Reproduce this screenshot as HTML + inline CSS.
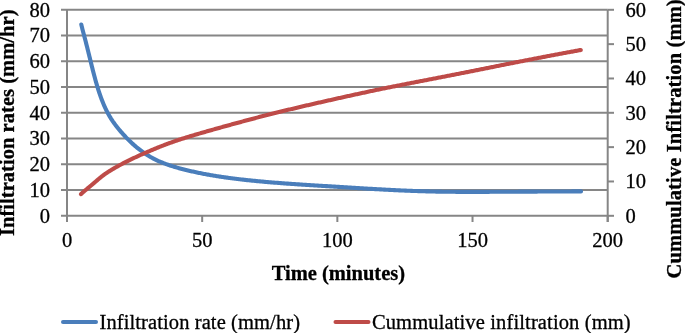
<!DOCTYPE html>
<html><head><meta charset="utf-8"><style>
html,body{margin:0;padding:0;background:#fff;width:685px;height:333px;overflow:hidden;}
svg{display:block;will-change:transform;filter:blur(0.35px);}
</style></head><body>
<svg width="685" height="333" viewBox="0 0 685 333">
<rect width="685" height="333" fill="#fff"/>
<g stroke="#868686" stroke-width="2" fill="none"><line x1="61" y1="215.80" x2="607.70" y2="215.80" /><line x1="61" y1="190.05" x2="607.70" y2="190.05" /><line x1="61" y1="164.30" x2="607.70" y2="164.30" /><line x1="61" y1="138.55" x2="607.70" y2="138.55" /><line x1="61" y1="112.80" x2="607.70" y2="112.80" /><line x1="61" y1="87.05" x2="607.70" y2="87.05" /><line x1="61" y1="61.30" x2="607.70" y2="61.30" /><line x1="61" y1="35.55" x2="607.70" y2="35.55" /><line x1="61" y1="9.80" x2="607.70" y2="9.80" /><line x1="607.70" y1="215.80" x2="614" y2="215.80" /><line x1="607.70" y1="181.47" x2="614" y2="181.47" /><line x1="607.70" y1="147.13" x2="614" y2="147.13" /><line x1="607.70" y1="112.80" x2="614" y2="112.80" /><line x1="607.70" y1="78.47" x2="614" y2="78.47" /><line x1="607.70" y1="44.13" x2="614" y2="44.13" /><line x1="607.70" y1="9.80" x2="614" y2="9.80" /><line x1="67.00" y1="9.80" x2="67.00" y2="215.80" /><line x1="607.70" y1="9.80" x2="607.70" y2="222.00" /><line x1="67.00" y1="215.80" x2="67.00" y2="222" /><line x1="202.18" y1="215.80" x2="202.18" y2="222" /><line x1="337.35" y1="215.80" x2="337.35" y2="222" /><line x1="472.53" y1="215.80" x2="472.53" y2="222" /><line x1="607.70" y1="215.80" x2="607.70" y2="222" /></g>
<path d="M81.30,24.49 L81.50,25.39 L81.70,26.25 L81.90,27.07 L82.10,27.87 L82.30,28.66 L82.50,29.43 L82.70,30.19 L82.90,30.94 L83.10,31.69 L83.30,32.44 L83.50,33.19 L83.70,33.94 L83.90,34.69 L84.10,35.44 L84.30,36.20 L84.50,36.95 L84.70,37.71 L84.90,38.48 L85.10,39.24 L85.30,40.01 L85.50,40.79 L85.70,41.56 L85.90,42.34 L86.10,43.12 L86.30,43.91 L86.50,44.69 L86.70,45.48 L86.90,46.28 L87.10,47.07 L87.30,47.87 L87.50,48.66 L87.70,49.47 L87.90,50.27 L88.10,51.07 L88.30,51.88 L88.50,52.68 L88.70,53.49 L88.90,54.30 L89.10,55.11 L89.30,55.92 L89.50,56.73 L89.70,57.54 L89.90,58.36 L90.10,59.17 L90.30,59.99 L90.50,60.80 L90.70,61.61 L90.90,62.43 L91.10,63.24 L91.30,64.05 L91.50,64.86 L91.70,65.67 L91.90,66.48 L92.10,67.28 L92.30,68.07 L92.50,68.87 L92.70,69.66 L92.90,70.45 L93.10,71.23 L93.30,72.01 L93.50,72.78 L93.70,73.55 L93.90,74.31 L94.10,75.07 L94.30,75.83 L94.50,76.57 L94.70,77.32 L94.90,78.05 L95.10,78.79 L95.30,79.51 L95.50,80.23 L95.70,80.95 L95.90,81.66 L96.10,82.36 L96.30,83.06 L96.50,83.75 L96.70,84.43 L96.90,85.11 L97.10,85.78 L97.30,86.45 L97.50,87.11 L97.70,87.76 L97.90,88.41 L98.10,89.04 L98.30,89.68 L98.50,90.30 L98.70,90.92 L98.90,91.54 L99.10,92.14 L99.30,92.74 L99.50,93.34 L99.70,93.93 L99.90,94.51 L100.10,95.09 L100.30,95.66 L100.50,96.22 L100.70,96.78 L100.90,97.33 L101.10,97.88 L101.30,98.42 L101.50,98.95 L101.70,99.48 L101.90,100.00 L102.10,100.52 L102.30,101.03 L102.50,101.54 L102.70,102.04 L102.90,102.53 L103.10,103.02 L103.30,103.51 L103.50,103.99 L103.70,104.46 L103.90,104.93 L104.10,105.39 L104.30,105.85 L104.50,106.31 L104.70,106.75 L104.90,107.20 L105.10,107.64 L105.30,108.07 L105.50,108.50 L105.70,108.92 L105.90,109.34 L106.10,109.75 L106.30,110.16 L106.50,110.57 L106.70,110.97 L106.90,111.37 L107.10,111.76 L107.30,112.14 L107.50,112.53 L107.70,112.90 L107.90,113.28 L108.10,113.65 L108.30,114.01 L108.50,114.37 L108.70,114.73 L108.90,115.09 L109.10,115.44 L109.30,115.78 L109.50,116.12 L109.70,116.46 L109.90,116.80 L110.00,116.96 L111.00,118.58 L112.00,120.12 L113.00,121.60 L114.00,123.01 L115.00,124.37 L116.00,125.68 L117.00,126.96 L118.00,128.21 L119.00,129.43 L120.00,130.63 L121.00,131.79 L122.00,132.94 L123.00,134.06 L124.00,135.16 L125.00,136.24 L126.00,137.29 L127.00,138.33 L128.00,139.34 L129.00,140.34 L130.00,141.31 L131.00,142.27 L132.00,143.20 L133.00,144.12 L134.00,145.01 L135.00,145.89 L136.00,146.74 L137.00,147.58 L138.00,148.39 L139.00,149.19 L140.00,149.96 L141.00,150.72 L142.00,151.45 L143.00,152.17 L144.00,152.87 L145.00,153.55 L146.00,154.21 L147.00,154.85 L148.00,155.48 L149.00,156.09 L150.00,156.68 L151.00,157.25 L152.00,157.81 L153.00,158.35 L154.00,158.87 L155.00,159.38 L156.00,159.87 L157.00,160.35 L158.00,160.81 L159.00,161.26 L160.00,161.69 L161.00,162.11 L162.00,162.52 L163.00,162.92 L164.00,163.31 L165.00,163.69 L166.00,164.06 L167.00,164.42 L168.00,164.77 L169.00,165.11 L170.00,165.45 L171.00,165.77 L172.00,166.09 L173.00,166.41 L174.00,166.71 L175.00,167.01 L176.00,167.31 L177.00,167.60 L178.00,167.88 L179.00,168.16 L180.00,168.44 L181.00,168.70 L182.00,168.97 L183.00,169.23 L184.00,169.49 L185.00,169.74 L186.00,169.99 L187.00,170.23 L188.00,170.47 L189.00,170.71 L190.00,170.94 L191.00,171.17 L192.00,171.40 L193.00,171.62 L194.00,171.84 L195.00,172.06 L196.00,172.28 L197.00,172.49 L198.00,172.69 L199.00,172.90 L200.00,173.10 L201.00,173.30 L202.00,173.50 L203.00,173.69 L204.00,173.89 L205.00,174.07 L206.00,174.26 L207.00,174.44 L208.00,174.63 L209.00,174.81 L210.00,174.98 L211.00,175.16 L212.00,175.33 L213.00,175.50 L214.00,175.66 L215.00,175.83 L216.00,175.99 L217.00,176.15 L218.00,176.31 L219.00,176.47 L220.00,176.62 L221.00,176.77 L222.00,176.92 L223.00,177.07 L224.00,177.22 L225.00,177.36 L226.00,177.50 L227.00,177.64 L228.00,177.78 L229.00,177.92 L230.00,178.05 L231.00,178.18 L232.00,178.31 L233.00,178.44 L234.00,178.57 L235.00,178.70 L236.00,178.82 L237.00,178.94 L238.00,179.06 L239.00,179.18 L240.00,179.30 L241.00,179.42 L242.00,179.53 L243.00,179.65 L244.00,179.76 L245.00,179.87 L246.00,179.98 L247.00,180.09 L248.00,180.20 L249.00,180.30 L250.00,180.41 L251.00,180.51 L252.00,180.61 L253.00,180.71 L254.00,180.81 L255.00,180.91 L256.00,181.01 L257.00,181.10 L258.00,181.20 L259.00,181.29 L260.00,181.39 L261.00,181.48 L262.00,181.57 L263.00,181.66 L264.00,181.75 L265.00,181.84 L266.00,181.92 L267.00,182.01 L268.00,182.10 L269.00,182.18 L270.00,182.27 L271.00,182.35 L272.00,182.43 L273.00,182.51 L274.00,182.59 L275.00,182.67 L276.00,182.75 L277.00,182.83 L278.00,182.91 L279.00,182.99 L280.00,183.06 L281.00,183.14 L282.00,183.21 L283.00,183.29 L284.00,183.36 L285.00,183.43 L286.00,183.51 L287.00,183.58 L288.00,183.65 L289.00,183.72 L290.00,183.79 L291.00,183.86 L292.00,183.93 L293.00,184.00 L294.00,184.07 L295.00,184.14 L296.00,184.21 L297.00,184.27 L298.00,184.34 L299.00,184.41 L300.00,184.47 L301.00,184.54 L302.00,184.60 L303.00,184.67 L304.00,184.73 L305.00,184.80 L306.00,184.86 L307.00,184.93 L308.00,184.99 L309.00,185.06 L310.00,185.12 L311.00,185.18 L312.00,185.25 L313.00,185.31 L314.00,185.37 L315.00,185.43 L316.00,185.50 L317.00,185.56 L318.00,185.62 L319.00,185.68 L320.00,185.74 L321.00,185.81 L322.00,185.87 L323.00,185.93 L324.00,185.99 L325.00,186.05 L326.00,186.11 L327.00,186.17 L328.00,186.24 L329.00,186.30 L330.00,186.36 L331.00,186.42 L332.00,186.48 L333.00,186.54 L334.00,186.60 L335.00,186.66 L336.00,186.73 L337.00,186.79 L338.00,186.85 L339.00,186.91 L340.00,186.97 L341.00,187.03 L342.00,187.09 L343.00,187.16 L344.00,187.22 L345.00,187.28 L346.00,187.34 L347.00,187.40 L348.00,187.46 L349.00,187.53 L350.00,187.59 L351.00,187.65 L352.00,187.71 L353.00,187.77 L354.00,187.83 L355.00,187.89 L356.00,187.95 L357.00,188.02 L358.00,188.08 L359.00,188.14 L360.00,188.20 L361.00,188.26 L362.00,188.32 L363.00,188.38 L364.00,188.44 L365.00,188.50 L366.00,188.56 L367.00,188.62 L368.00,188.68 L369.00,188.74 L370.00,188.80 L371.00,188.85 L372.00,188.91 L373.00,188.97 L374.00,189.03 L375.00,189.09 L376.00,189.14 L377.00,189.20 L378.00,189.26 L379.00,189.31 L380.00,189.37 L381.00,189.42 L382.00,189.48 L383.00,189.53 L384.00,189.59 L385.00,189.64 L386.00,189.70 L387.00,189.75 L388.00,189.80 L389.00,189.85 L390.00,189.90 L391.00,189.96 L392.00,190.01 L393.00,190.06 L394.00,190.11 L395.00,190.16 L396.00,190.20 L397.00,190.25 L398.00,190.30 L399.00,190.35 L400.00,190.39 L401.00,190.44 L402.00,190.48 L403.00,190.53 L404.00,190.57 L405.00,190.61 L406.00,190.66 L407.00,190.70 L408.00,190.74 L409.00,190.78 L410.00,190.82 L411.00,190.86 L412.00,190.89 L413.00,190.93 L414.00,190.97 L415.00,191.00 L416.00,191.04 L417.00,191.07 L418.00,191.11 L419.00,191.14 L420.00,191.17 L421.00,191.20 L422.00,191.23 L423.00,191.26 L424.00,191.29 L425.00,191.32 L426.00,191.35 L427.00,191.37 L428.00,191.40 L429.00,191.42 L430.00,191.45 L431.00,191.47 L432.00,191.49 L433.00,191.52 L434.00,191.54 L435.00,191.56 L436.00,191.58 L437.00,191.60 L438.00,191.61 L439.00,191.63 L440.00,191.65 L441.00,191.66 L442.00,191.68 L443.00,191.69 L444.00,191.71 L445.00,191.72 L446.00,191.73 L447.00,191.75 L448.00,191.76 L449.00,191.77 L450.00,191.78 L451.00,191.79 L452.00,191.80 L453.00,191.80 L454.00,191.81 L455.00,191.82 L456.00,191.83 L457.00,191.83 L458.00,191.84 L459.00,191.84 L460.00,191.85 L461.00,191.85 L462.00,191.85 L463.00,191.86 L464.00,191.86 L465.00,191.86 L466.00,191.87 L467.00,191.87 L468.00,191.87 L469.00,191.87 L470.00,191.87 L471.00,191.87 L472.00,191.87 L473.00,191.87 L474.00,191.87 L475.00,191.87 L476.00,191.87 L477.00,191.87 L478.00,191.86 L479.00,191.86 L480.00,191.86 L481.00,191.86 L482.00,191.85 L483.00,191.85 L484.00,191.85 L485.00,191.84 L486.00,191.84 L487.00,191.84 L488.00,191.83 L489.00,191.83 L490.00,191.82 L491.00,191.82 L492.00,191.82 L493.00,191.81 L494.00,191.81 L495.00,191.80 L496.00,191.80 L497.00,191.79 L498.00,191.79 L499.00,191.78 L500.00,191.78 L501.00,191.77 L502.00,191.77 L503.00,191.76 L504.00,191.76 L505.00,191.75 L506.00,191.74 L507.00,191.74 L508.00,191.73 L509.00,191.73 L510.00,191.72 L511.00,191.72 L512.00,191.71 L513.00,191.71 L514.00,191.70 L515.00,191.70 L516.00,191.69 L517.00,191.68 L518.00,191.68 L519.00,191.67 L520.00,191.67 L521.00,191.66 L522.00,191.66 L523.00,191.65 L524.00,191.65 L525.00,191.64 L526.00,191.64 L527.00,191.63 L528.00,191.63 L529.00,191.62 L530.00,191.61 L531.00,191.61 L532.00,191.60 L533.00,191.60 L534.00,191.59 L535.00,191.59 L536.00,191.58 L537.00,191.58 L538.00,191.57 L539.00,191.57 L540.00,191.56 L541.00,191.56 L542.00,191.55 L543.00,191.55 L544.00,191.55 L545.00,191.54 L546.00,191.54 L547.00,191.53 L548.00,191.53 L549.00,191.52 L550.00,191.52 L551.00,191.51 L552.00,191.51 L553.00,191.50 L554.00,191.50 L555.00,191.50 L556.00,191.49 L557.00,191.49 L558.00,191.48 L559.00,191.48 L560.00,191.47 L561.00,191.47 L562.00,191.47 L563.00,191.46 L564.00,191.46 L565.00,191.45 L566.00,191.45 L567.00,191.44 L568.00,191.44 L569.00,191.44 L570.00,191.43 L571.00,191.43 L572.00,191.42 L573.00,191.42 L574.00,191.42 L575.00,191.41 L576.00,191.41 L577.00,191.40 L578.00,191.40 L579.00,191.40 L580.00,191.39 L581.00,191.39" stroke="#4a7ebb" stroke-width="4.1" fill="none" stroke-linecap="round" stroke-linejoin="round"/><path d="M81.00,194.20 L81.20,193.97 L81.40,193.76 L81.60,193.56 L81.80,193.36 L82.00,193.17 L82.20,192.98 L82.40,192.80 L82.60,192.62 L82.80,192.44 L83.00,192.26 L83.20,192.09 L83.40,191.91 L83.60,191.74 L83.80,191.57 L84.00,191.40 L84.20,191.23 L84.40,191.06 L84.60,190.89 L84.80,190.72 L85.00,190.55 L85.20,190.38 L85.40,190.21 L85.60,190.04 L85.80,189.87 L86.00,189.70 L86.20,189.53 L86.40,189.37 L86.60,189.20 L86.80,189.03 L87.00,188.86 L87.20,188.69 L87.40,188.52 L87.60,188.35 L87.80,188.19 L88.00,188.02 L88.20,187.85 L88.40,187.68 L88.60,187.51 L88.80,187.35 L89.00,187.18 L89.20,187.01 L89.40,186.84 L89.60,186.68 L89.80,186.51 L90.00,186.34 L90.20,186.18 L90.40,186.01 L90.60,185.84 L90.80,185.68 L91.00,185.51 L91.20,185.35 L91.40,185.18 L91.60,185.01 L91.80,184.85 L92.00,184.68 L92.20,184.51 L92.40,184.34 L92.60,184.18 L92.80,184.01 L93.00,183.84 L93.20,183.67 L93.40,183.50 L93.60,183.33 L93.80,183.16 L94.00,182.99 L94.20,182.82 L94.40,182.65 L94.60,182.48 L94.80,182.31 L95.00,182.14 L95.20,181.97 L95.40,181.80 L95.60,181.63 L95.80,181.45 L96.00,181.28 L96.20,181.11 L96.40,180.94 L96.60,180.76 L96.80,180.59 L97.00,180.42 L97.20,180.24 L97.40,180.07 L97.60,179.90 L97.80,179.72 L98.00,179.55 L98.20,179.38 L98.40,179.21 L98.60,179.04 L98.80,178.87 L99.00,178.70 L99.20,178.53 L99.40,178.36 L99.60,178.20 L99.80,178.03 L100.00,177.87 L100.20,177.70 L100.40,177.54 L100.60,177.38 L100.80,177.21 L101.00,177.05 L101.20,176.89 L101.40,176.73 L101.60,176.58 L101.80,176.42 L102.00,176.26 L102.20,176.11 L102.40,175.96 L102.60,175.80 L102.80,175.65 L103.00,175.50 L103.20,175.35 L103.40,175.20 L103.60,175.06 L103.80,174.91 L104.00,174.76 L104.20,174.62 L104.40,174.47 L104.60,174.33 L104.80,174.19 L105.00,174.05 L105.20,173.91 L105.40,173.77 L105.60,173.63 L105.80,173.49 L106.00,173.35 L106.20,173.22 L106.40,173.08 L106.60,172.95 L106.80,172.81 L107.00,172.68 L107.20,172.55 L107.40,172.41 L107.60,172.28 L107.80,172.15 L108.00,172.02 L108.20,171.89 L108.40,171.76 L108.60,171.64 L108.80,171.51 L109.00,171.38 L109.20,171.26 L109.40,171.13 L109.60,171.01 L109.80,170.88 L110.00,170.76 L111.00,170.14 L112.00,169.54 L113.00,168.95 L114.00,168.37 L115.00,167.79 L116.00,167.22 L117.00,166.66 L118.00,166.10 L119.00,165.55 L120.00,165.00 L121.00,164.47 L122.00,163.93 L123.00,163.41 L124.00,162.89 L125.00,162.37 L126.00,161.86 L127.00,161.36 L128.00,160.86 L129.00,160.36 L130.00,159.87 L131.00,159.39 L132.00,158.91 L133.00,158.43 L134.00,157.96 L135.00,157.49 L136.00,157.03 L137.00,156.57 L138.00,156.11 L139.00,155.65 L140.00,155.20 L141.00,154.75 L142.00,154.31 L143.00,153.86 L144.00,153.42 L145.00,152.99 L146.00,152.55 L147.00,152.12 L148.00,151.69 L149.00,151.26 L150.00,150.84 L151.00,150.41 L152.00,149.99 L153.00,149.57 L154.00,149.16 L155.00,148.74 L156.00,148.33 L157.00,147.92 L158.00,147.52 L159.00,147.12 L160.00,146.72 L161.00,146.33 L162.00,145.93 L163.00,145.54 L164.00,145.16 L165.00,144.78 L166.00,144.40 L167.00,144.02 L168.00,143.65 L169.00,143.29 L170.00,142.92 L171.00,142.56 L172.00,142.20 L173.00,141.85 L174.00,141.50 L175.00,141.15 L176.00,140.81 L177.00,140.47 L178.00,140.13 L179.00,139.80 L180.00,139.47 L181.00,139.15 L182.00,138.82 L183.00,138.50 L184.00,138.19 L185.00,137.87 L186.00,137.56 L187.00,137.25 L188.00,136.94 L189.00,136.63 L190.00,136.33 L191.00,136.02 L192.00,135.72 L193.00,135.42 L194.00,135.12 L195.00,134.83 L196.00,134.53 L197.00,134.24 L198.00,133.94 L199.00,133.65 L200.00,133.36 L201.00,133.07 L202.00,132.78 L203.00,132.49 L204.00,132.20 L205.00,131.91 L206.00,131.62 L207.00,131.33 L208.00,131.05 L209.00,130.76 L210.00,130.48 L211.00,130.19 L212.00,129.91 L213.00,129.63 L214.00,129.35 L215.00,129.06 L216.00,128.78 L217.00,128.50 L218.00,128.22 L219.00,127.94 L220.00,127.66 L221.00,127.38 L222.00,127.11 L223.00,126.83 L224.00,126.55 L225.00,126.27 L226.00,126.00 L227.00,125.72 L228.00,125.45 L229.00,125.17 L230.00,124.90 L231.00,124.62 L232.00,124.35 L233.00,124.07 L234.00,123.80 L235.00,123.53 L236.00,123.25 L237.00,122.98 L238.00,122.71 L239.00,122.44 L240.00,122.17 L241.00,121.90 L242.00,121.63 L243.00,121.36 L244.00,121.09 L245.00,120.82 L246.00,120.55 L247.00,120.28 L248.00,120.01 L249.00,119.75 L250.00,119.48 L251.00,119.21 L252.00,118.95 L253.00,118.68 L254.00,118.42 L255.00,118.15 L256.00,117.89 L257.00,117.63 L258.00,117.37 L259.00,117.10 L260.00,116.84 L261.00,116.58 L262.00,116.32 L263.00,116.07 L264.00,115.81 L265.00,115.55 L266.00,115.30 L267.00,115.04 L268.00,114.79 L269.00,114.53 L270.00,114.28 L271.00,114.03 L272.00,113.78 L273.00,113.53 L274.00,113.28 L275.00,113.03 L276.00,112.78 L277.00,112.53 L278.00,112.28 L279.00,112.04 L280.00,111.79 L281.00,111.55 L282.00,111.30 L283.00,111.06 L284.00,110.82 L285.00,110.58 L286.00,110.33 L287.00,110.09 L288.00,109.85 L289.00,109.61 L290.00,109.37 L291.00,109.13 L292.00,108.89 L293.00,108.66 L294.00,108.42 L295.00,108.18 L296.00,107.95 L297.00,107.71 L298.00,107.47 L299.00,107.24 L300.00,107.00 L301.00,106.77 L302.00,106.53 L303.00,106.30 L304.00,106.07 L305.00,105.83 L306.00,105.60 L307.00,105.37 L308.00,105.14 L309.00,104.91 L310.00,104.68 L311.00,104.45 L312.00,104.22 L313.00,103.99 L314.00,103.76 L315.00,103.53 L316.00,103.30 L317.00,103.07 L318.00,102.84 L319.00,102.61 L320.00,102.39 L321.00,102.16 L322.00,101.93 L323.00,101.70 L324.00,101.48 L325.00,101.25 L326.00,101.03 L327.00,100.80 L328.00,100.58 L329.00,100.35 L330.00,100.13 L331.00,99.90 L332.00,99.68 L333.00,99.45 L334.00,99.23 L335.00,99.01 L336.00,98.78 L337.00,98.56 L338.00,98.34 L339.00,98.12 L340.00,97.89 L341.00,97.67 L342.00,97.45 L343.00,97.23 L344.00,97.01 L345.00,96.79 L346.00,96.57 L347.00,96.35 L348.00,96.12 L349.00,95.90 L350.00,95.69 L351.00,95.47 L352.00,95.25 L353.00,95.03 L354.00,94.81 L355.00,94.59 L356.00,94.37 L357.00,94.15 L358.00,93.93 L359.00,93.72 L360.00,93.50 L361.00,93.28 L362.00,93.06 L363.00,92.85 L364.00,92.63 L365.00,92.41 L366.00,92.20 L367.00,91.98 L368.00,91.77 L369.00,91.55 L370.00,91.34 L371.00,91.12 L372.00,90.91 L373.00,90.70 L374.00,90.49 L375.00,90.27 L376.00,90.06 L377.00,89.85 L378.00,89.64 L379.00,89.43 L380.00,89.23 L381.00,89.02 L382.00,88.81 L383.00,88.61 L384.00,88.40 L385.00,88.20 L386.00,87.99 L387.00,87.79 L388.00,87.59 L389.00,87.38 L390.00,87.18 L391.00,86.98 L392.00,86.78 L393.00,86.58 L394.00,86.38 L395.00,86.18 L396.00,85.98 L397.00,85.79 L398.00,85.59 L399.00,85.39 L400.00,85.20 L401.00,85.00 L402.00,84.80 L403.00,84.61 L404.00,84.41 L405.00,84.22 L406.00,84.02 L407.00,83.83 L408.00,83.63 L409.00,83.44 L410.00,83.24 L411.00,83.05 L412.00,82.85 L413.00,82.66 L414.00,82.47 L415.00,82.27 L416.00,82.08 L417.00,81.88 L418.00,81.69 L419.00,81.50 L420.00,81.30 L421.00,81.11 L422.00,80.91 L423.00,80.72 L424.00,80.53 L425.00,80.33 L426.00,80.14 L427.00,79.95 L428.00,79.75 L429.00,79.56 L430.00,79.36 L431.00,79.17 L432.00,78.98 L433.00,78.78 L434.00,78.59 L435.00,78.39 L436.00,78.20 L437.00,78.00 L438.00,77.81 L439.00,77.61 L440.00,77.42 L441.00,77.22 L442.00,77.03 L443.00,76.83 L444.00,76.64 L445.00,76.44 L446.00,76.25 L447.00,76.05 L448.00,75.86 L449.00,75.66 L450.00,75.47 L451.00,75.27 L452.00,75.07 L453.00,74.88 L454.00,74.68 L455.00,74.49 L456.00,74.29 L457.00,74.09 L458.00,73.90 L459.00,73.70 L460.00,73.50 L461.00,73.31 L462.00,73.11 L463.00,72.91 L464.00,72.71 L465.00,72.51 L466.00,72.32 L467.00,72.12 L468.00,71.92 L469.00,71.72 L470.00,71.52 L471.00,71.33 L472.00,71.13 L473.00,70.93 L474.00,70.73 L475.00,70.53 L476.00,70.33 L477.00,70.13 L478.00,69.93 L479.00,69.73 L480.00,69.53 L481.00,69.33 L482.00,69.13 L483.00,68.93 L484.00,68.73 L485.00,68.53 L486.00,68.33 L487.00,68.13 L488.00,67.92 L489.00,67.72 L490.00,67.52 L491.00,67.32 L492.00,67.12 L493.00,66.92 L494.00,66.72 L495.00,66.52 L496.00,66.32 L497.00,66.11 L498.00,65.91 L499.00,65.71 L500.00,65.51 L501.00,65.31 L502.00,65.11 L503.00,64.91 L504.00,64.71 L505.00,64.51 L506.00,64.31 L507.00,64.11 L508.00,63.91 L509.00,63.71 L510.00,63.51 L511.00,63.31 L512.00,63.12 L513.00,62.92 L514.00,62.72 L515.00,62.52 L516.00,62.32 L517.00,62.13 L518.00,61.93 L519.00,61.73 L520.00,61.53 L521.00,61.34 L522.00,61.14 L523.00,60.95 L524.00,60.75 L525.00,60.55 L526.00,60.36 L527.00,60.16 L528.00,59.97 L529.00,59.77 L530.00,59.58 L531.00,59.39 L532.00,59.19 L533.00,59.00 L534.00,58.80 L535.00,58.61 L536.00,58.42 L537.00,58.22 L538.00,58.03 L539.00,57.84 L540.00,57.65 L541.00,57.45 L542.00,57.26 L543.00,57.07 L544.00,56.88 L545.00,56.69 L546.00,56.50 L547.00,56.31 L548.00,56.11 L549.00,55.92 L550.00,55.73 L551.00,55.54 L552.00,55.35 L553.00,55.16 L554.00,54.97 L555.00,54.78 L556.00,54.60 L557.00,54.41 L558.00,54.22 L559.00,54.03 L560.00,53.84 L561.00,53.65 L562.00,53.47 L563.00,53.28 L564.00,53.09 L565.00,52.90 L566.00,52.72 L567.00,52.53 L568.00,52.35 L569.00,52.16 L570.00,51.98 L571.00,51.79 L572.00,51.61 L573.00,51.42 L574.00,51.24 L575.00,51.05 L576.00,50.87 L577.00,50.69 L578.00,50.51 L579.00,50.32 L580.00,50.14 L580.75,50.00" stroke="#be4b48" stroke-width="4.1" fill="none" stroke-linecap="round" stroke-linejoin="round"/>
<line x1="63" y1="322" x2="96" y2="322" stroke="#4a7ebb" stroke-width="4" stroke-linecap="round"/><line x1="335.5" y1="322" x2="368.5" y2="322" stroke="#be4b48" stroke-width="4" stroke-linecap="round"/>
<g font-family="Liberation Serif, serif" font-size="20.5" fill="#000" stroke="#000" stroke-width="0.3"><text x="50" y="222.50" text-anchor="end">0</text><text x="50" y="196.75" text-anchor="end">10</text><text x="50" y="171.00" text-anchor="end">20</text><text x="50" y="145.25" text-anchor="end">30</text><text x="50" y="119.50" text-anchor="end">40</text><text x="50" y="93.75" text-anchor="end">50</text><text x="50" y="68.00" text-anchor="end">60</text><text x="50" y="42.25" text-anchor="end">70</text><text x="50" y="16.50" text-anchor="end">80</text><text x="625.5" y="222.50">0</text><text x="625.5" y="188.17">10</text><text x="625.5" y="153.83">20</text><text x="625.5" y="119.50">30</text><text x="625.5" y="85.17">40</text><text x="625.5" y="50.83">50</text><text x="625.5" y="16.50">60</text><text x="67.00" y="246.5" text-anchor="middle">0</text><text x="202.18" y="246.5" text-anchor="middle">50</text><text x="337.35" y="246.5" text-anchor="middle">100</text><text x="472.53" y="246.5" text-anchor="middle">150</text><text x="607.70" y="246.5" text-anchor="middle">200</text><text x="338.4" y="280" text-anchor="middle" font-weight="bold">Time (minutes)</text><text transform="translate(14.3,236) rotate(-90)" font-weight="bold" textLength="226.5" lengthAdjust="spacing">Infiltration rates (mm/hr)</text><text transform="translate(681,278.5) rotate(-90)" font-weight="bold" textLength="279.2" lengthAdjust="spacing">Cummulative Infiltration (mm)</text><text x="99.5" y="328.5" textLength="200.5" lengthAdjust="spacing">Infiltration rate (mm/hr)</text><text x="371.9" y="328.5" textLength="258.8" lengthAdjust="spacing">Cummulative infiltration (mm)</text></g>
</svg>
</body></html>
